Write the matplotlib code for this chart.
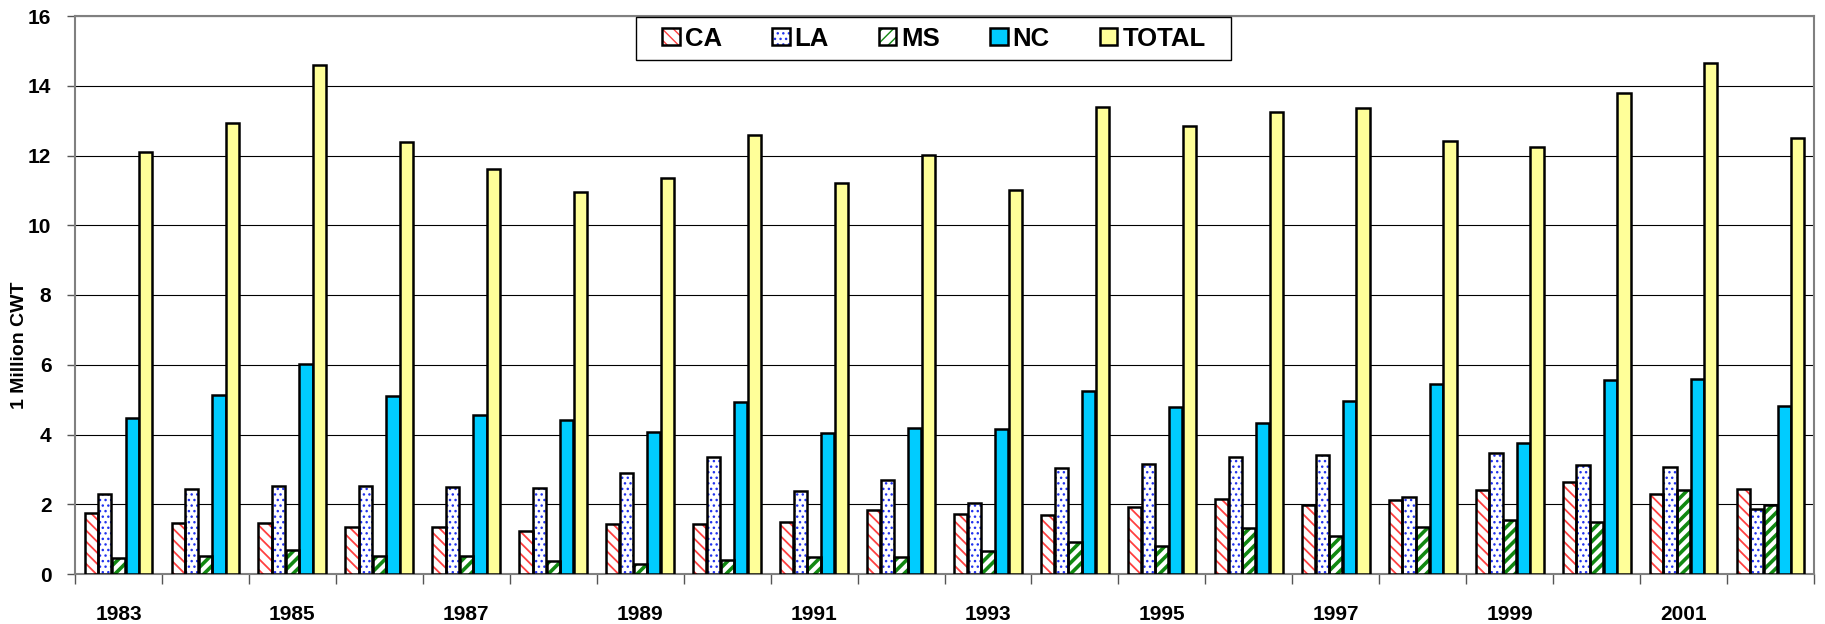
import matplotlib
matplotlib.use("Agg")
import matplotlib.pyplot as plt
import matplotlib.patches as mpatches
import numpy as np

years = list(range(1983, 2003))
CA = [1.74, 1.45, 1.45, 1.36, 1.36, 1.23, 1.43, 1.43, 1.50, 1.83,
      1.73, 1.68, 1.92, 2.16, 1.99, 2.13, 2.40, 2.63, 2.30, 2.45]
LA = [2.30, 2.43, 2.53, 2.52, 2.49, 2.47, 2.90, 3.36, 2.39, 2.70,
      2.05, 3.03, 3.16, 3.35, 3.41, 2.20, 3.47, 3.13, 3.08, 1.86]
MS = [0.45, 0.51, 0.68, 0.51, 0.51, 0.36, 0.28, 0.41, 0.49, 0.49,
      0.65, 0.93, 0.80, 1.31, 1.09, 1.34, 1.55, 1.48, 2.40, 1.98]
NC = [4.46, 5.14, 6.02, 5.11, 4.56, 4.43, 4.07, 4.92, 4.05, 4.20,
      4.15, 5.26, 4.80, 4.34, 4.95, 5.45, 3.77, 5.56, 5.58, 4.82]
TOTAL = [12.10, 12.92, 14.60, 12.38, 11.62, 10.95, 11.35, 12.59, 11.20, 12.02,
         11.02, 13.40, 12.84, 13.24, 13.35, 12.41, 12.24, 13.80, 14.66, 12.51]
series_names = ["CA", "LA", "MS", "NC", "TOTAL"]
tick_years = [str(y) for y in years[::2]]

plt.rcParams['font.family'] = ['Liberation Sans', 'DejaVu Sans']
plt.rcParams['font.weight'] = 'bold'

W, H = 1825, 624
fig = plt.figure(figsize=(W / 100, H / 100), dpi=100)
ax = fig.add_axes([75 / W, 1 - 574 / H, (1814 - 75) / W, (574 - 16) / H])

x = np.arange(len(years))
w = 0.152
step = 0.157
edge_lw = 1.8

# style: (face, hatchcolor, hatch, hatch lw)
styles = {
    "CA": ("white", "#ff4040", "\\\\\\", 1.3),
    "LA": ("white", "#2233ee", "...", 1.0),
    "MS": ("white", "#118811", "///", 2.6),
    "NC": ("#00ccff", None, None, 1.0),
    "TOTAL": ("#ffff99", None, None, 1.0),
}
data = {"CA": CA, "LA": LA, "MS": MS, "NC": NC, "TOTAL": TOTAL}

handles = []
for i, name in enumerate(series_names):
    face, hc, hatch, hlw = styles[name]
    pos = x + (i - 2) * step
    vals = data[name]
    if hatch:
        with plt.rc_context({'hatch.linewidth': hlw}):
            bars = ax.bar(pos, vals, width=w, color=face, edgecolor=hc,
                          hatch=hatch, linewidth=0, zorder=3)
            for b in bars:
                try:
                    b.set_hatch_linewidth(hlw)
                except Exception:
                    pass
            ax.bar(pos, vals, width=w, fill=False, edgecolor='black',
                   linewidth=edge_lw, zorder=4)
            p1 = mpatches.Patch(facecolor=face, edgecolor=hc, hatch=hatch, linewidth=0)
            try:
                p1.set_hatch_linewidth(hlw)
            except Exception:
                pass
            p2 = mpatches.Patch(fill=False, edgecolor='black', linewidth=edge_lw)
            handles.append((p1, p2))
    else:
        ax.bar(pos, vals, width=w, color=face, edgecolor='black',
               linewidth=edge_lw, zorder=3)
        handles.append(mpatches.Patch(facecolor=face, edgecolor='black', linewidth=edge_lw))

ax.set_xlim(-0.5, len(years) - 0.5)
ax.set_ylim(0, 16)
ax.set_yticks(np.arange(0, 17, 2))
ax.yaxis.grid(True, color='black', linewidth=0.8, zorder=0)
ax.set_axisbelow(True)

# major ticks at category boundaries, labels on minor ticks at centers
ax.set_xticks(np.arange(-0.5, len(years), 1.0))
ax.set_xticklabels([])
ax.set_xticks(x[::2], minor=True)
ax.set_xticklabels(tick_years, minor=True)
ax.tick_params(axis='x', which='major', length=7, width=1.0, color='#555555', direction='out')
ax.tick_params(axis='x', which='minor', length=0, pad=22, labelsize=15)
ax.tick_params(axis='y', length=6, width=1.0, color='#555555', pad=11, labelsize=15)
for lbl in ax.get_xticklabels(minor=True) + ax.get_yticklabels():
    lbl.set_fontweight('bold')

for s in ax.spines.values():
    s.set_color('#808080')
    s.set_linewidth(1.5)

fig.text(20 / W, 1 - 345 / H, "1 Million CWT", rotation=90, ha='center', va='center',
         fontsize=14, fontweight='bold')

# legend frame (Excel-style fixed box)
frame = mpatches.Rectangle((636 / W, 1 - 60 / H), (1231 - 636) / W, (60 - 17) / H,
                           transform=fig.transFigure, facecolor='white',
                           edgecolor='black', linewidth=1.0, zorder=9)
fig.patches.append(frame)

leg = fig.legend(handles, series_names, ncol=5, loc='center',
                 bbox_to_anchor=(934 / W, 1 - 38.5 / H), frameon=False,
                 borderpad=0.0, handlelength=0.68, handleheight=0.68,
                 handletextpad=0.2, columnspacing=1.94,
                 prop={'size': 18.5, 'weight': 'bold'})
leg.set_zorder(10)

fig.savefig("out.png", dpi=100)
